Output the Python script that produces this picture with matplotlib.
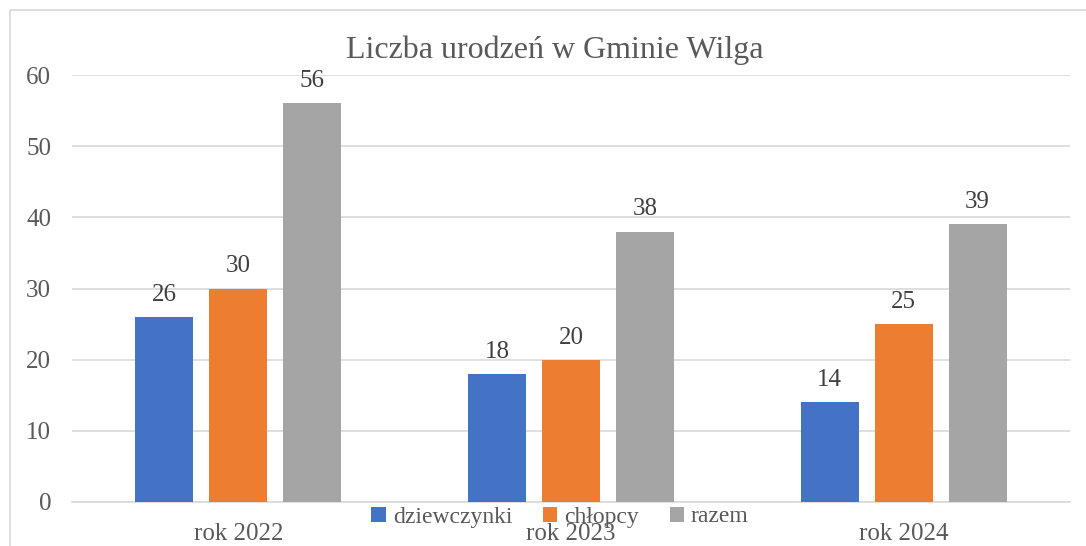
import matplotlib.pyplot as plt
import numpy as np
from matplotlib.lines import Line2D

# data
years = ["rok 2022", "rok 2023", "rok 2024"]
dziewczynki = [26, 18, 14]
chlopcy = [30, 20, 25]
razem = [56, 38, 39]
series_names = ["dziewczynki", "chłopcy", "razem"]
colors = ["#4472C4", "#ED7D31", "#A5A5A5"]

def main():
    plt.rcParams['font.family'] = ['Liberation Serif', 'DejaVu Serif']
    txt = "#595959"
    W, H = 1086, 546
    fig = plt.figure(figsize=(W / 100, H / 100), dpi=100)
    ax = fig.add_axes([72 / W, 1 - 502 / H, (1070 - 72) / W, (502 - 75) / H])

    x = np.arange(len(years))
    step = 0.2224  # offset between bars of one group
    width = 0.174
    for i, vals in enumerate([dziewczynki, chlopcy, razem]):
        b = ax.bar(x + (i - 1) * step, vals, width, color=colors[i],
                   label=series_names[i], zorder=3)
        ax.bar_label(b, padding=8, fontsize=18, color="#404040")

    ax.set_xlim(-0.5, 2.5)
    ax.set_ylim(0, 60)
    ax.set_yticks(range(0, 61, 10))
    ax.set_xticks(x)
    ax.set_xticklabels(years)
    ax.tick_params(axis='both', length=0, labelsize=18, labelcolor=txt)
    ax.tick_params(axis='y', pad=15)
    ax.tick_params(axis='x', pad=15)
    ax.yaxis.grid(True, color="#D9D9D9", linewidth=1.2, zorder=0)
    for s in ["top", "right", "left"]:
        ax.spines[s].set_visible(False)
    ax.spines["bottom"].set_color("#D9D9D9")
    ax.spines["bottom"].set_linewidth(1.2)

    fig.text(555 / W, 1 - 50 / H, "Liczba urodzeń w Gminie Wilga",
             ha='center', va='center', fontsize=23, color=txt)

    fig.legend(loc='center', bbox_to_anchor=(560 / W, 1 - 517 / H),
               ncol=3, frameon=False, fontsize=17, handlelength=0.6,
               handleheight=0.6, handletextpad=0.3, columnspacing=1.3,
               labelcolor=txt, borderaxespad=0)

    # outer chart border (left and top visible)
    fig.add_artist(Line2D([10 / W, 10 / W, 1], [0, 1 - 10 / H, 1 - 10 / H],
                          transform=fig.transFigure, color="#D9D9D9", linewidth=1.2))

    fig.savefig("out.png", dpi=100)

if __name__ == '__main__':
    main()
